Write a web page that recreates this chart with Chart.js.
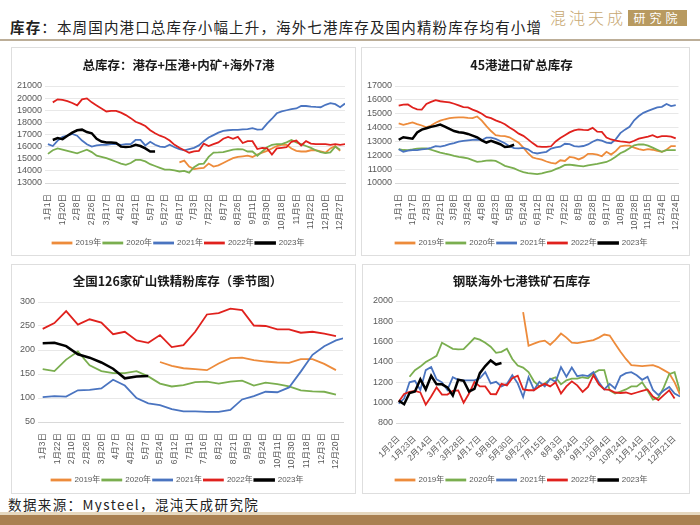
<!DOCTYPE html>
<html>
<head>
<meta charset="utf-8">
<title>库存</title>
<style>
  body { margin: 0; background: #fff; }
  #page { position: relative; width: 700px; height: 525px; overflow: hidden; font-family: "Noto Sans CJK SC", sans-serif; }
  #head { position: absolute; left: 10px; top: 19px; font-size: 14.5px; line-height: 16px; letter-spacing: 1.15px; color: #222; white-space: nowrap; }
  #head b { font-weight: 700; }
  #hline { position: absolute; left: 0; top: 39px; width: 700px; height: 2px; background: #bcae98; }
  #logo1 { position: absolute; left: 550px; top: 8px; font-size: 16px; line-height: 18px; font-weight: 300; letter-spacing: 3px; color: #c7a872; }
  #logo2 { position: absolute; left: 628px; top: 10px; width: 59px; height: 16px; background: #b89a60; color: #fff; font-size: 12px; line-height: 16px; letter-spacing: 4px; text-align: center; }
  .panel { position: absolute; box-sizing: border-box; border: 1px solid #dedede; background: #fff; }
  .panel canvas { position: absolute; left: 0; top: 0; }
  #foot { position: absolute; left: 8px; top: 497px; font-size: 13.5px; line-height: 15px; letter-spacing: 1.4px; color: #222; white-space: nowrap; }
  #bar1 { position: absolute; left: 0; top: 512px; width: 700px; height: 3px; background: #e6d8bf; }
  #bar2 { position: absolute; left: 0; top: 515px; width: 700px; height: 10px; background: #a98051; }
</style>
</head>
<body>
<div id="page">
  <div id="head"><b>库存</b>：本周国内港口总库存小幅上升，海外七港库存及国内精粉库存均有小增</div>
  <div id="logo1">混沌天成</div>
  <div id="logo2">研究院</div>
  <div id="hline"></div>

  <div class="panel" style="left:11px;top:47px;width:345px;height:209px"><canvas id="c1" width="343" height="207"></canvas></div>
  <div class="panel" style="left:361px;top:47px;width:329px;height:209px"><canvas id="c2" width="327" height="207"></canvas></div>
  <div class="panel" style="left:11px;top:264px;width:345px;height:230px"><canvas id="c3" width="343" height="228"></canvas></div>
  <div class="panel" style="left:362px;top:264px;width:328px;height:230px"><canvas id="c4" width="326" height="228"></canvas></div>

  <div id="foot">数据来源：Mysteel，混沌天成研究院</div>
  <div id="bar1"></div>
  <div id="bar2"></div>
</div>

<script src="https://cdn.jsdelivr.net/npm/chart.js@4"></script>
<script>
// ---- 总库存：港存+压港+内矿+海外7港 (weekly, 62 points) ----
var tlLabels = ["1月1日","1月20日","2月8日","2月26日","3月17日","4月2日","4月21日","5月7日","5月27日","6月17日","7月3日",
  "7月22日","8月7日","8月26日","9月11日","9月30日","10月18日","11月5日","11月22日","12月10日","12月27日"];
var tl2019 = [null,null,null,null,null,null,null,null,null,null, null,null,null,null,null,null,null,null,null,null,
  null,null,null,null,null,null,null,14700,14850,14350, 14150,14200,14250,14600,14350,14450,14650,14850,15050,15150,
  15200,15250,15150,15350,15500,15650,15850,16050,16150,16150, 15850,15650,15600,15600,15700,15700,15600,15500,15850,16050,
  15650,null];
var tl2020 = [15400,15700,15850,15750,15650,15550,15450,15600,15750,15550, 15250,15150,15050,14900,14750,14600,14500,14650,14900,14900,
  14780,14550,14400,14250,14100,14100,14050,13950,14000,13850, 14300,14550,14600,15150,15500,15520,15550,15650,15750,15800,
  15780,15600,15600,15250,15600,15950,16150,16200,16200,16350, 16550,16350,16200,16050,15900,15700,15550,15470,15520,16000,
  15750,null];
var tl2021 = [16200,16050,16500,16800,16900,17050,16900,16500,16200,16000, 16100,16150,16150,16200,16200,16150,16200,16200,16550,16550,
  16100,16400,16150,16000,15960,16150,15950,15800,15700,15800, 15900,16100,16450,16750,16950,17150,17300,17350,17380,17380,
  17420,17450,17520,17400,17430,17900,18300,18750,18900,19000, 19100,19150,19350,19350,19300,19270,19250,19450,19580,19500,
  19250,19550];
var tl2022 = [null,19650,19900,19850,19750,19600,19400,19900,19980,19650, 19400,19150,18900,18950,18950,18800,18600,18350,18050,17900,
  17700,17350,17100,16900,16750,16500,16150,15900,15700,15500, 15600,15650,16250,16050,16200,16350,16650,16800,16650,16800,
  16300,16450,16450,15800,15900,15850,15350,15850,15900,15950, 16400,16500,16100,16450,16250,16200,16200,16200,16150,16200,
  16150,16200];
var tl2023 = [null,16550,16700,16620,16900,17150,17350,17400,17200,17100, 16650,16420,16340,16340,16300,16000,15960,16000,16150,16050,
  15850,15600,15600];

// ---- 45港进口矿总库存 (weekly, 61 points) ----
var trLabels = ["1月1日","1月17日","2月3日","2月21日","3月8日","3月24日","4月8日","4月23日","5月8日","5月24日","6月12日",
  "7月2日","7月22日","8月9日","8月28日","9月17日","10月8日","10月28日","11月15日","12月4日","12月24日"];
var tr2019 = [14300,14200,14280,14370,14250,14150,14020,14150,14350,14500, 14600,14680,14720,14730,14730,14700,14680,14800,14500,14100,
  13750,13450,13400,13380,13300,13100,12900,12550,12150,11850, 11750,11680,11550,11450,11400,11640,11590,11880,11830,11700,
  11850,12100,12100,12050,11930,12250,12050,12300,12650,12700, 12690,12550,12450,12370,12450,12400,12320,12250,12400,12660,
  12660];
var tr2020 = [12440,12380,12370,12420,12480,12490,12490,12400,12300,12200, 12120,12050,11950,11880,11840,11780,11650,11530,11560,11620,
  11630,11590,11420,11240,11150,11050,10900,10780,10720,10680, 10640,10700,10780,10850,11000,11130,11300,11320,11280,11240,
  11200,11280,11330,11380,11450,11520,11680,11900,12150,12300, 12500,12720,12780,12780,12700,12550,12400,12250,12370,12370,
  12370];
var tr2021 = [12440,12260,12340,12370,12370,12420,12470,12540,12660,12630, 12690,12800,12880,12980,13040,13080,13110,13140,13090,13270,
  13280,13180,13030,12870,12660,12520,12500,12540,12430,12200, 12130,12190,12250,12480,12570,12620,12830,12800,12660,12620,
  12670,12780,12980,13130,13050,12920,12870,13150,13600,13850, 14060,14530,14830,15060,15200,15330,15460,15500,15700,15550,
  15620];
var tr2022 = [15580,15650,15670,15450,15320,15300,15700,15850,15980,15900, 15860,15820,15720,15600,15470,15460,15300,15170,15000,14770,
  14680,14520,14400,14240,14000,13800,13560,13400,13150,12880, 12650,12600,12600,12650,13000,13250,13450,13650,13800,13870,
  13840,13820,13980,13700,13690,13280,13140,13050,13000,12970, 12920,13050,13200,13280,13350,13450,13300,13380,13380,13350,
  13220];
var tr2023 = [13120,13300,13250,13200,13650,13850,13950,14050,14120,14220, 14070,13900,13750,13660,13620,13540,13420,13300,13080,12920,
  13040,12920,12800,12600,12640,12760];

// ---- 全国126家矿山铁精粉库存（季节图） (bi-weekly, 27 points) ----
var blLabels = ["1月3日","1月22日","2月10日","2月26日","3月20日","4月7日","4月22日","5月7日","5月24日","6月12日","7月1日",
  "7月16日","8月2日","8月21日","9月9日","9月24日","10月11日","10月30日","11月18日","12月3日","12月20日"];
var bl2019 = [null,null,null,null,null,null,null,null,null,null, 175,167,162,160,158,172,183,184,179,176,
  174,173,181,181,171,158,null];
var bl2020 = [160,156,180,197,168,156,152,152,156,145, 130,124,127,133,134,130,134,136,126,132,
  129,124,116,114,113,107,null];
var bl2021 = [102,104,103,116,117,120,138,126,100,89, 85,77,72,72,71,71,75,97,104,113,
  112,122,155,190,208,220,227];
var bl2022 = [244,256,281,253,264,257,233,238,220,215, 231,206,210,238,274,277,286,283,251,250,
  243,243,236,238,234,229,null];
var bl2023 = [214,215,208,191,184,174,161,141,145,146];

// ---- 钢联海外七港铁矿石库存 (weekly, 53 points) ----
var brLabels = ["1月2日","1月23日","2月14日","3月7日","3月28日","4月17日","5月8日","5月30日","6月22日",
  "7月15日","8月3日","8月24日","9月13日","10月4日","10月24日","11月14日","12月2日","12月21日"];
var br2019 = [null,null,null,null,null,null,null,null,null,null, null,null,null,null,null,null,null,null,null,null,
  null,null,null,1890,1560,1580,1600,1610,1570,1620, 1680,1640,1590,1585,1595,1605,1615,1640,1670,1660,
  1580,1500,1430,1370,1365,1360,1365,1370,1350,1320, 1290,1200,1080];
var br2020 = [null,null,1255,1320,1355,1400,1430,1460,1590,1560, 1530,1525,1527,1580,1635,1620,1590,1550,1490,1500,
  1530,1430,1365,1345,1300,1210,1160,1188,1230,1250, 1180,1220,1237,1237,1250,1240,1290,1320,1320,1120,
  1090,1110,1130,1160,1160,1200,1120,1030,1050,1150, 1280,1300,1110];
var br2021 = [990,1040,1200,1215,1125,1320,1350,1230,1200,1125, 1250,1225,1220,1220,1220,1240,1300,1190,1205,1160,
  1185,1270,1190,1056,1250,1125,1205,1160,1235,1205, 1350,1255,1345,1260,1270,1262,1300,1200,1130,1185,
  1140,1260,1290,1300,1270,1225,1255,1125,1075,1120, 1155,1090,1060];
var br2022 = [1010,1085,1105,1115,1100,980,1060,1150,1080,1080, 1115,1120,1000,1090,1204,1160,1160,1085,1083,1185,
  1170,1240,1265,1130,1122,1122,1160,1185,1160,1200, 1090,1160,1210,1170,1106,1155,1270,1180,1130,1125,
  1100,1095,1100,1085,1100,1115,1130,1060,1025,1075, 1122,1040,null];
var br2023 = [1020,985,1095,1110,1230,1130,1265,1180,1180,1150, 1070,1225,1215,1110,1135,1290,1360,1415,1375,1390];

var years = ["2019年","2020年","2021年","2022年","2023年"];
var colors = ["#ED8B3B","#7AAE4F","#4A74C0","#E0211D","#000000"];

Chart.defaults.font.family = "'Liberation Sans', 'Noto Sans CJK SC', sans-serif";
Chart.defaults.color = "#595959";

var LEG_FONT = 8, LEG_PAD = 2;

function makeChart(id, o) {
  var cv = document.getElementById(id);
  var W = cv.width, H = cv.height;
  var tlh = o.titleSize * 1.2;
  var legH = LEG_FONT + LEG_PAD + 10;
  var legTop = o.legendY - LEG_PAD - LEG_FONT / 2;
  var ticksAt = o.labels.map(function (_, k) { return k * o.tickStep; });

  // newest year painted on top: dataset 0 is drawn last
  var ds = [];
  for (var s = o.series.length - 1; s >= 0; s--) {
    ds.push({
      label: years[s],
      data: o.series[s].map(function (v, i) { return { x: i, y: v }; }),
      borderColor: colors[s],
      backgroundColor: colors[s],
      borderWidth: s === 4 ? 2.5 : 1.8,
      pointRadius: 0,
      tension: 0,
      spanGaps: false
    });
  }

  return new Chart(cv, {
    type: 'line',
    data: { datasets: ds },
    options: {
      responsive: false,
      animation: false,
      devicePixelRatio: 1,
      layout: { padding: { left: 0, top: 0, right: W - o.area[1], bottom: H - legTop - legH } },
      plugins: {
        title: {
          display: true,
          text: o.title,
          color: '#1a1a1a',
          font: { family: "'Noto Sans CJK SC', sans-serif", size: o.titleSize, weight: 'bold' },
          padding: { top: o.titleY - tlh / 2, bottom: o.area[2] - o.titleY - tlh / 2 }
        },
        legend: {
          position: 'bottom',
          reverse: true,
          labels: { boxWidth: 19, boxHeight: 1, padding: LEG_PAD, font: { size: LEG_FONT }, color: '#595959' }
        },
        tooltip: { enabled: false }
      },
      scales: {
        x: {
          type: 'linear',
          min: o.xMin,
          max: o.xMax,
          afterBuildTicks: function (sc) { sc.ticks = ticksAt.map(function (v) { return { value: v }; }); },
          afterFit: function (sc) { sc.height = legTop - o.area[3]; },
          ticks: {
            autoSkip: false,
            minRotation: o.rot,
            maxRotation: o.rot,
            padding: 3,
            font: { size: 8.5 },
            callback: function (v, i) { return o.labels[i]; }
          },
          grid: { display: false },
          border: { color: '#d9d9d9' }
        },
        y: {
          min: o.yMin,
          max: o.yMax,
          afterFit: function (sc) { sc.width = o.area[0]; },
          ticks: { stepSize: o.yStep, autoSkip: false, padding: 3, font: { size: 9 }, callback: function (v) { return String(v); } },
          grid: { color: '#e2e2e2', lineWidth: 0.8, drawTicks: false },
          border: { display: false }
        }
      }
    }
  });
}

makeChart('c1', {
  title: '总库存：港存+压港+内矿+海外7港', titleSize: 12.5, titleY: 17, legendY: 195,
  area: [33, 333, 38, 135], labels: tlLabels, tickStep: 3, rot: 90,
  xMin: -0.6, xMax: 61, yMin: 13000, yMax: 21000, yStep: 1000,
  series: [tl2019, tl2020, tl2021, tl2022, tl2023]
});
makeChart('c2', {
  title: '45港进口矿总库存', titleSize: 12.5, titleY: 17, legendY: 195,
  area: [33, 319, 38, 135], labels: trLabels, tickStep: 3, rot: 90,
  xMin: -0.8, xMax: 60.6, yMin: 10000, yMax: 17000, yStep: 1000,
  series: [tr2019, tr2020, tr2021, tr2022, tr2023]
});
makeChart('c3', {
  title: '全国126家矿山铁精粉库存（季节图）', titleSize: 12.5, titleY: 16, legendY: 215,
  area: [26, 331, 37, 157], labels: blLabels, tickStep: 1.25, rot: 90,
  xMin: -0.4, xMax: 25.6, yMin: 50, yMax: 300, yStep: 50,
  series: [bl2019, bl2020, bl2021, bl2022, bl2023]
});
makeChart('c4', {
  title: '钢联海外七港铁矿石库存', titleSize: 12.5, titleY: 16, legendY: 215,
  area: [33, 317, 36, 158], labels: brLabels, tickStep: 3, rot: 45,
  xMin: -0.5, xMax: 52, yMin: 800, yMax: 2000, yStep: 200,
  series: [br2019, br2020, br2021, br2022, br2023]
});
</script>
</body>
</html>
